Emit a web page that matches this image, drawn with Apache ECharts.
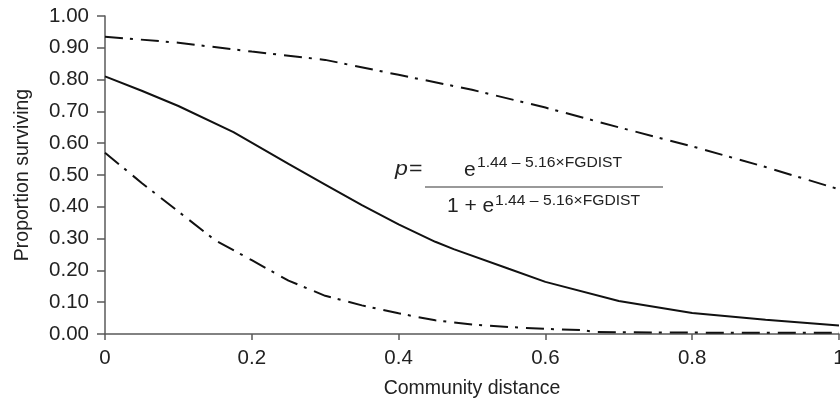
<!DOCTYPE html>
<html>
<head>
<meta charset="utf-8">
<script src="https://cdn.jsdelivr.net/npm/echarts@6/dist/echarts.min.js"></script>
<style>
  html, body { margin: 0; padding: 0; background: #fff; }
  #chart { width: 840px; height: 405px; }
</style>
</head>
<body>
<div id="chart"></div>
<script>
// community distance vs proportion surviving
var fitted = [
  [0, 0.81], [0.05, 0.765], [0.1, 0.717], [0.175, 0.635], [0.25, 0.535],
  [0.3, 0.47], [0.35, 0.405], [0.4, 0.345], [0.45, 0.29], [0.475, 0.267],
  [0.55, 0.205], [0.6, 0.164], [0.7, 0.104], [0.8, 0.066], [0.9, 0.045], [1, 0.027]
];
var upperBand = [
  [0, 0.935], [0.1, 0.916], [0.2, 0.888], [0.3, 0.862], [0.4, 0.815],
  [0.5, 0.768], [0.6, 0.712], [0.7, 0.65], [0.8, 0.59], [0.9, 0.525], [1, 0.455]
];
var lowerBand = [
  [0, 0.57], [0.05, 0.475], [0.1, 0.385], [0.15, 0.295], [0.2, 0.232],
  [0.25, 0.168], [0.3, 0.12], [0.35, 0.09], [0.4, 0.065], [0.45, 0.043],
  [0.5, 0.03], [0.55, 0.022], [0.6, 0.016], [0.65, 0.012], [0.67, 0.006],
  [0.75, 0.005], [0.85, 0.004], [1, 0.004]
];
var xRange = [0, 1, 0.2];
var yRange = [0, 1, 0.1];

var FONT = "'Liberation Sans', Arial, Helvetica, sans-serif";
var axisGrey = "#5a5a5a";
var dashDot = [18, 7, 3, 8];

var myChart = echarts.init(document.getElementById("chart"));

function bandSeries(data) {
  return {
    type: "line",
    data: data,
    showSymbol: false,
    silent: true,
    lineStyle: { color: "#111", width: 2, type: dashDot }
  };
}

myChart.setOption({
  animation: false,
  textStyle: { fontFamily: FONT },
  grid: {
    left: 105,
    right: 1,
    top: 16,
    bottom: 71,
    containLabel: false,
    outerBoundsMode: "none"
  },
  xAxis: {
    type: "value",
    min: xRange[0],
    max: xRange[1],
    interval: xRange[2],
    name: "Community distance",
    nameLocation: "middle",
    nameGap: 45,
    nameTextStyle: { fontSize: 19.5, color: "#222", fontFamily: FONT },
    splitLine: { show: false },
    axisLine: { lineStyle: { color: axisGrey, width: 1.5 } },
    axisTick: { length: 6, lineStyle: { color: axisGrey, width: 1.5 } },
    axisLabel: {
      fontSize: 20.5,
      color: "#222",
      margin: 14,
      fontFamily: FONT,
      formatter: function (v) { return String(+v.toFixed(1)); }
    }
  },
  yAxis: {
    type: "value",
    min: yRange[0],
    max: yRange[1],
    interval: yRange[2],
    name: "Proportion surviving",
    nameLocation: "middle",
    nameGap: 72,
    nameTextStyle: { fontSize: 19.5, color: "#222", fontFamily: FONT },
    splitLine: { show: false },
    axisLine: { show: true, lineStyle: { color: axisGrey, width: 1.5 } },
    axisTick: { show: true, length: 8, lineStyle: { color: axisGrey, width: 1.5 } },
    axisLabel: {
      fontSize: 20.5,
      color: "#222",
      margin: 16,
      fontFamily: FONT,
      formatter: function (v) { return v.toFixed(2); }
    }
  },
  graphic: [
    { type: "text", x: 395, y: 169, scaleX: 1.1,
      style: { text: "p", font: "italic 21px " + FONT, fill: "#222", verticalAlign: "middle" } },
    { type: "text", x: 409, y: 169, scaleX: 1.1,
      style: { text: "=", font: "21px " + FONT, fill: "#222", verticalAlign: "middle" } },
    { type: "text", x: 464, y: 170,
      style: { text: "e", font: "21px " + FONT, fill: "#222", verticalAlign: "middle" } },
    { type: "text", x: 477, y: 163, scaleX: 1.12,
      style: { text: "1.44 \u2013 5.16\u00d7FGDIST", font: "14px " + FONT, fill: "#222", verticalAlign: "middle" } },
    { type: "line", shape: { x1: 425, y1: 187, x2: 663, y2: 187 },
      style: { stroke: "#777", lineWidth: 1.5 } },
    { type: "text", x: 447, y: 206,
      style: { text: "1 + e", font: "21px " + FONT, fill: "#222", verticalAlign: "middle" } },
    { type: "text", x: 495, y: 201, scaleX: 1.12,
      style: { text: "1.44 \u2013 5.16\u00d7FGDIST", font: "14px " + FONT, fill: "#222", verticalAlign: "middle" } }
  ],
  series: [
    {
      type: "line",
      data: fitted,
      showSymbol: false,
      silent: true,
      lineStyle: { color: "#111", width: 2, type: "solid" }
    },
    bandSeries(upperBand),
    bandSeries(lowerBand)
  ]
});
</script>
</body>
</html>
